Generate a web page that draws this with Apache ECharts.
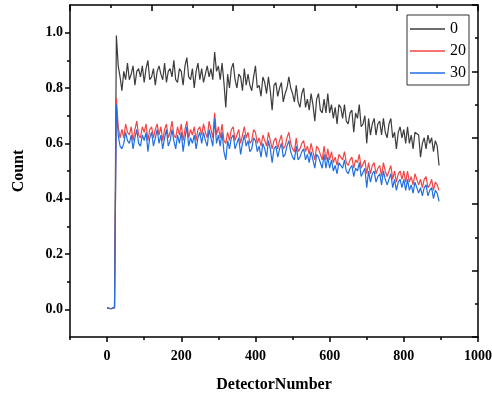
<!DOCTYPE html>
<html>
<head>
<meta charset="utf-8">
<script src="https://cdn.jsdelivr.net/npm/echarts@6/dist/echarts.min.js"></script>
<style>html,body{margin:0;padding:0;background:#fff}#c{width:492px;height:394px}</style>
</head>
<body>
<div id="c"></div>
<script>
const detector = [0,5,10,15,20,25,30,35,40,45,50,55,60,65,70,75,80,85,90,95,100,105,110,115,120,125,130,135,140,145,150,155,160,165,170,175,180,185,190,195,200,205,210,215,220,225,230,235,240,245,250,255,260,265,270,275,280,285,290,295,300,305,310,315,320,325,330,335,340,345,350,355,360,365,370,375,380,385,390,395,400,405,410,415,420,425,430,435,440,445,450,455,460,465,470,475,480,485,490,495,500,505,510,515,520,525,530,535,540,545,550,555,560,565,570,575,580,585,590,595,600,605,610,615,620,625,630,635,640,645,650,655,660,665,670,675,680,685,690,695,700,705,710,715,720,725,730,735,740,745,750,755,760,765,770,775,780,785,790,795,800,805,810,815,820,825,830,835,840,845,850,855,860,865,870,875,880,885,890,895];

const count0 = [0.005,0.003,0.002,0.002,0.006,0.99,0.88,0.84,
.79,.86,.83,.89,.83,.85,.88,.81,.86,.87,
.84,.88,.82,.87,.90,.83,.84,.87,.81,.86,
.88,.85,.83,.89,.82,.86,.87,.84,.90,.83,
.82,.87,.86,.81,.88,.91,.84,.83,.87,.80,
.86,.89,.83,.87,.82,.85,.88,.84,.87,.83,
.93,.86,.88,.83,.89,.82,.73,.85,.80,.87,
.89,.83,.80,.85,.84,.79,.87,.81,.85,.81,
.79,.84,.88,.80,.81,.77,.84,.82,.78,.84,
.79,.72,.81,.82,.77,.80,.82,.75,.78,.80,
.84,.80,.78,.75,.81,.75,.73,.78,.80,.73,
.76,.72,.78,.74,.68,.76,.78,.72,.71,.76,
.71,.78,.71,.74,.69,.73,.67,.74,.73,.69,
.74,.68,.67,.71,.72,.64,.71,.69,.74,.66,
.67,.70,.60,.69,.63,.67,.69,.63,.67,.68,
.63,.69,.64,.62,.67,.69,.62,.64,.58,.64,
.66,.62,.65,.60,.66,.60,.63,.58,.64,.64,
.63,.55,.60,.62,.58,.63,.60,.62,.57,.61,
.59,.52];

const count20 = [0.005,0.003,0.002,0.002,0.006,0.765,0.66,0.62,
.65,.62,.67,.64,.63,.66,.61,.65,.68,.63,
.62,.66,.64,.67,.61,.65,.66,.62,.65,.67,
.63,.66,.61,.65,.67,.62,.64,.68,.63,.62,
.66,.63,.67,.61,.65,.68,.62,.65,.63,.66,
.61,.65,.66,.63,.67,.64,.62,.68,.65,.62,
.71,.63,.66,.62,.67,.61,.60,.64,.61,.65,
.66,.61,.63,.65,.60,.63,.66,.62,.64,.60,
.61,.65,.64,.60,.62,.59,.63,.61,.59,.64,
.61,.58,.61,.62,.58,.61,.63,.58,.59,.62,
.64,.60,.58,.57,.62,.57,.58,.60,.61,.57,
.59,.56,.60,.57,.54,.59,.58,.56,.54,.59,
.54,.58,.54,.57,.53,.55,.52,.56,.56,.54,
.57,.53,.52,.54,.55,.51,.54,.53,.56,.51,
.51,.54,.49,.53,.49,.52,.53,.49,.51,.52,
.48,.53,.50,.48,.50,.52,.47,.50,.46,.49,
.50,.47,.50,.46,.50,.46,.48,.45,.49,.49,
.45,.47,.44,.47,.48,.44,.45,.47,.43,.46,
.45,.43];

const count30 = [0.005,0.003,0.002,0.002,0.006,0.74,0.63,0.59,
.58,.60,.64,.61,.60,.63,.58,.62,.65,.60,
.59,.63,.61,.64,.57,.62,.64,.59,.62,.65,
.60,.63,.58,.62,.65,.59,.61,.65,.61,.58,
.63,.60,.64,.57,.62,.66,.59,.62,.60,.63,
.58,.62,.64,.60,.64,.61,.59,.65,.62,.59,
.69,.60,.63,.59,.64,.57,.54,.61,.58,.62,
.63,.58,.60,.62,.56,.60,.63,.59,.61,.57,
.58,.62,.61,.57,.59,.55,.60,.58,.55,.61,
.58,.53,.58,.59,.55,.58,.60,.55,.56,.59,
.61,.57,.55,.54,.59,.54,.55,.57,.58,.54,
.56,.53,.57,.54,.51,.56,.55,.53,.51,.56,
.51,.55,.51,.54,.50,.52,.49,.53,.53,.51,
.54,.50,.49,.51,.52,.48,.51,.50,.53,.48,
.48,.51,.44,.50,.46,.49,.50,.46,.48,.49,
.45,.50,.47,.45,.47,.49,.44,.47,.43,.46,
.47,.44,.47,.43,.47,.43,.45,.42,.46,.46,
.42,.44,.41,.44,.45,.41,.43,.44,.40,.43,
.42,.39];

const seriesNames = ['0','20','30'];
const xTicks = [0,200,400,600,800,1000];
const xMinorTicks = [-100,100,300,500,700,900];
const yTicks = [0,0.2,0.4,0.6,0.8,1.0];
const yMinorTicks = [0.1,0.3,0.5,0.7,0.9];

const pairs = (ys) => detector.map((x, i) => [x, ys[i]]);
const FONT = '"Liberation Serif","Times New Roman",serif';
const axisLineStyle = {color:'#000', width:1.5};

const chart = echarts.init(document.getElementById('c'), null, {renderer:'canvas'});
chart.setOption({
  animation:false,
  backgroundColor:'#fff',
  grid:{left:70, right:14, top:5, bottom:57, containLabel:false, outerBoundsMode:'none'},
  legend:{
    data:seriesNames, orient:'vertical', left:407, top:15, icon:'rect',
    itemWidth:35, itemHeight:1.5, itemGap:6,
    padding:[6,3,4,3], borderColor:'#333', borderWidth:1,
    textStyle:{fontFamily:FONT, fontSize:16, color:'#000', lineHeight:16}
  },
  xAxis:[
    {type:'value', min:-100, max:1000, position:'bottom',
     axisLine:{onZero:false, lineStyle:axisLineStyle},
     axisTick:{customValues:xTicks, length:5, lineStyle:axisLineStyle},
     axisLabel:{customValues:xTicks, margin:12, formatter:(v)=>String(v), fontFamily:FONT, fontWeight:'bold', fontSize:14, color:'#000'},
     splitLine:{show:false},
     name:'DetectorNumber', nameLocation:'middle', nameGap:40,
     nameTextStyle:{fontFamily:FONT, fontWeight:'bold', fontSize:16, color:'#000'}},
    {type:'value', min:-100, max:1000, position:'bottom',
     axisLine:{show:false, onZero:false},
     axisTick:{customValues:xMinorTicks, length:3, lineStyle:axisLineStyle},
     axisLabel:{show:false}, splitLine:{show:false}},
    {type:'value', min:0, max:10, interval:2, position:'top',
     axisLine:{onZero:false, lineStyle:axisLineStyle},
     axisTick:{inside:true, length:6, lineStyle:axisLineStyle},
     minorTick:{show:true, splitNumber:2, length:3, lineStyle:axisLineStyle},
     axisLabel:{show:false}, splitLine:{show:false}, minorSplitLine:{show:false}}
  ],
  yAxis:[
    {type:'value', min:-0.1, max:1.1, position:'left',
     axisLine:{onZero:false, lineStyle:axisLineStyle},
     axisTick:{customValues:yTicks, length:5, lineStyle:axisLineStyle},
     axisLabel:{customValues:yTicks, margin:7, formatter:(v)=>v.toFixed(1), fontFamily:FONT, fontWeight:'bold', fontSize:14, color:'#000'},
     splitLine:{show:false},
     name:'Count', nameLocation:'middle', nameGap:43,
     nameTextStyle:{fontFamily:FONT, fontWeight:'bold', fontSize:16, color:'#000'}},
    {type:'value', min:-0.1, max:1.1, position:'left',
     axisLine:{show:false, onZero:false},
     axisTick:{customValues:yMinorTicks, length:3, lineStyle:axisLineStyle},
     axisLabel:{show:false}, splitLine:{show:false}},
    {type:'value', min:0, max:10, interval:2, position:'right',
     axisLine:{onZero:false, lineStyle:axisLineStyle},
     axisTick:{inside:true, length:6, lineStyle:axisLineStyle},
     minorTick:{show:true, splitNumber:2, length:3, lineStyle:axisLineStyle},
     axisLabel:{show:false}, splitLine:{show:false}, minorSplitLine:{show:false}}
  ],
  series:[
    {name:seriesNames[0], type:'line', symbol:'none', data:pairs(count0), color:'#3c3c3c', lineStyle:{width:1.2, color:'#3c3c3c'}, z:2},
    {name:seriesNames[1], type:'line', symbol:'none', data:pairs(count20), color:'#f24545', lineStyle:{width:1.2, color:'#f24545'}, z:3},
    {name:seriesNames[2], type:'line', symbol:'none', data:pairs(count30), color:'#1f6fe3', lineStyle:{width:1.2, color:'#1f6fe3'}, z:4}
  ]
});
</script>
</body>
</html>
